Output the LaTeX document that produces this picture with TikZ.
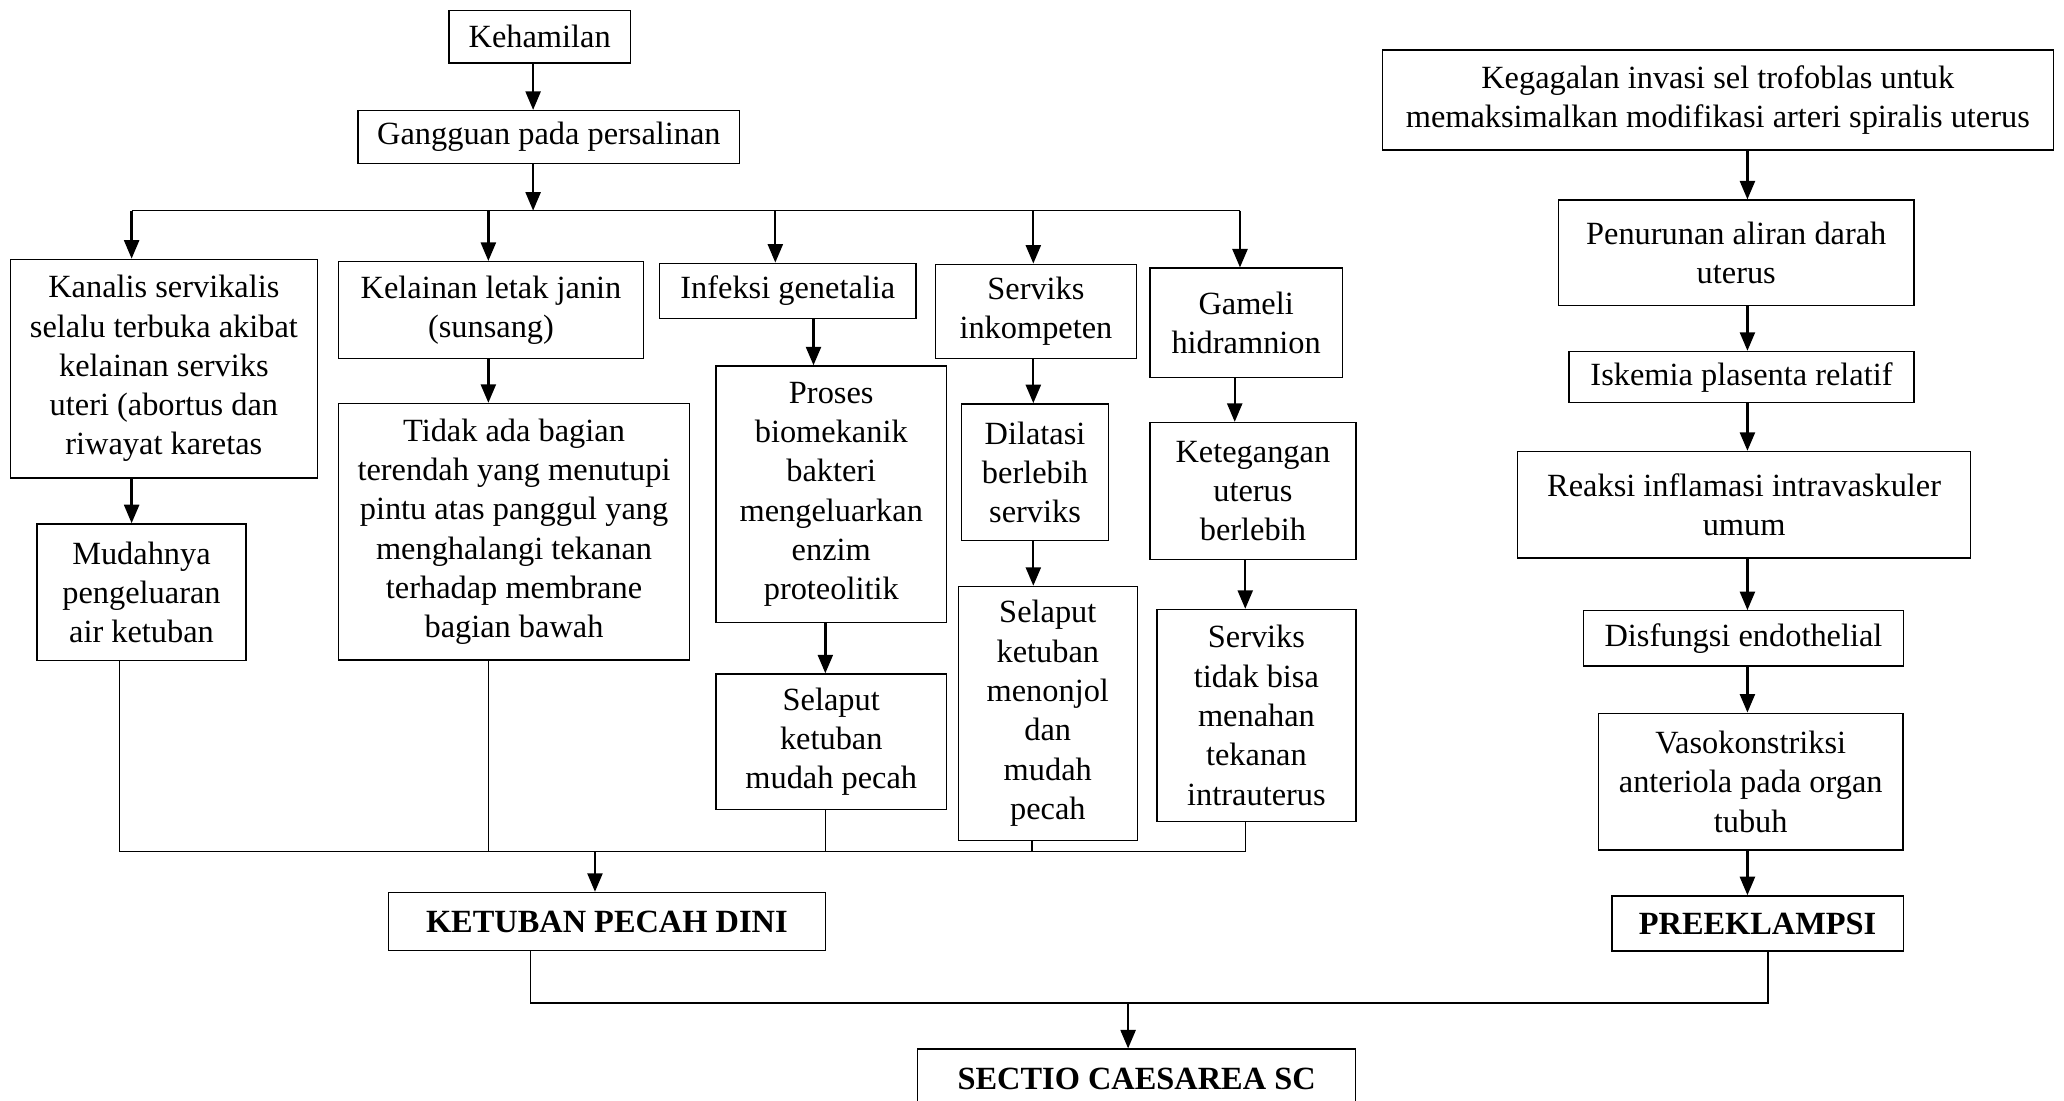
\documentclass[tikz,border=0pt]{standalone}
\usepackage{fontspec}
\setmainfont{Liberation Serif}
\usetikzlibrary{arrows.meta, positioning}

\begin{document}
\begin{tikzpicture}[
    x=0.02cm, y=-0.02cm,
    every node/.style={font=\fontsize{14}{17}\selectfont},
    box/.style 2 args={
        draw, line width=0.6pt,
        minimum width=#1, minimum height=#2,
        inner sep=0pt, align=center
    },
    bold/.style={font=\fontsize{14}{17}\selectfont\bfseries},
    arr/.style={
        -{Triangle[length=8pt, width=6.5pt]},
        line width=1pt
    },
    link/.style={line width=0.6pt}
]
\useasboundingbox (0,0) rectangle (1568,836);

% Nodes: ketuban pecah dini branch
\node[box={2.76cm}{0.80cm}] (hamil) at (410,28) {Kehamilan};
\node[box={5.80cm}{0.80cm}] (gangguan) at (417,104) {Gangguan pada persalinan};

\node[box={4.66cm}{3.32cm}] (kanalis) at (124.5,280)
    {Kanalis servikalis\\selalu terbuka akibat\\kelainan serviks\\uteri (abortus dan\\riwayat karetas};
\node[box={3.18cm}{2.08cm}] (mudah) at (107.5,450) {Mudahnya\\pengeluaran\\air ketuban};

\node[box={4.64cm}{1.47cm}] (kelainan) at (373,235.5) {Kelainan letak janin\\(sunsang)};
\node[box={5.34cm}{3.90cm}] (tidak) at (390.5,404)
    {Tidak ada bagian\\terendah yang menutupi\\pintu atas panggul yang\\menghalangi tekanan\\terhadap membrane\\bagian bawah};

\node[box={3.90cm}{0.84cm}] (infeksi) at (598.5,221) {Infeksi genetalia};
\node[box={3.50cm}{3.90cm}] (proses) at (631.5,375.5)
    {Proses\\biomekanik\\bakteri\\mengeluarkan\\enzim\\proteolitik};
\node[box={3.50cm}{2.06cm}] (selaput) at (631.5,563.5) {Selaput\\ketuban\\mudah pecah};

\node[box={3.06cm}{1.43cm}] (inkompeten) at (787,236.5) {Serviks\\inkompeten};
\node[box={2.23cm}{2.08cm}] (dilatasi) at (786.3,358.8) {Dilatasi\\berlebih\\serviks};
\node[box={2.72cm}{3.86cm}] (menonjol) at (796,542)
    {Selaput\\ketuban\\menonjol\\dan\\mudah\\pecah};

\node[box={2.92cm}{1.66cm}] (gameli) at (946.7,245.2) {Gameli\\hidramnion};
\node[box={3.13cm}{2.08cm}] (tegang) at (951.8,373) {Ketegangan\\uterus\\berlebih};
\node[box={3.02cm}{3.22cm}] (menahan) at (954.5,543.5)
    {Serviks\\tidak bisa\\menahan\\tekanan\\intrauterus};

\node[box={6.64cm}{0.88cm}, bold] (kpd) at (461,700) {KETUBAN PECAH DINI};

% Nodes: preeklampsi branch
\node[box={10.20cm}{1.52cm}] (gagal) at (1305,76)
    {Kegagalan invasi sel trofoblas untuk\\memaksimalkan modifikasi arteri spiralis uterus};
\node[box={5.40cm}{1.60cm}] (turun) at (1319,192) {Penurunan aliran darah\\uterus};
\node[box={5.24cm}{0.78cm}] (iskemia) at (1323,286.5) {Iskemia plasenta relatif};
\node[box={6.88cm}{1.62cm}] (reaksi) at (1325,383.5) {Reaksi inflamasi intravaskuler\\umum};
\node[box={4.86cm}{0.84cm}] (disfungsi) at (1324.5,485) {Disfungsi endothelial};
\node[box={4.63cm}{2.08cm}] (vaso) at (1330,593.8) {Vasokonstriksi\\anteriola pada organ\\tubuh};
\node[box={4.43cm}{0.84cm}, bold] (preek) at (1335.2,701.6) {PREEKLAMPSI};

\node[box={6.66cm}{0.92cm}, bold] (sc) at (863.5,820) {SECTIO CAESAREA SC};

% Branch points
\coordinate (g) at (405,160);
\coordinate (t1) at (100,160);
\coordinate (t2) at (371,160);
\coordinate (t3) at (589,160);
\coordinate (t4) at (785,160);
\coordinate (t5) at (942,160);
\coordinate (s3) at (618,0);
\coordinate (s5) at (938,0);
\coordinate (b1) at (91,647);
\coordinate (b2) at (371,647);
\coordinate (b3) at (627,647);
\coordinate (b4) at (784,647);
\coordinate (b5) at (946,647);
\coordinate (bk) at (452,647);
\coordinate (rc) at (1327.5,0);
\coordinate (j1) at (403,762);
\coordinate (j2) at (1343,762);
\coordinate (jm) at (857,762);

% Arrows: top
\draw[arr] (hamil.south -| g) -- (gangguan.north -| g);
\draw[arr] (gangguan.south -| g) -- (g);
\draw[link] (t1) -- (t5);
\draw[arr] (t1) -- (kanalis.north -| t1);
\draw[arr] (t2) -- (kelainan.north -| t2);
\draw[arr] (t3) -- (infeksi.north -| t3);
\draw[arr] (t4) -- (inkompeten.north -| t4);
\draw[arr] (t5) -- (gameli.north -| t5);

% Arrows: inside the columns
\draw[arr] (kanalis.south -| t1) -- (mudah.north -| t1);
\draw[arr] (kelainan.south -| t2) -- (tidak.north -| t2);
\draw[arr] (infeksi.south -| s3) -- (proses.north -| s3);
\draw[arr] (proses.south -| b3) -- (selaput.north -| b3);
\draw[arr] (inkompeten.south -| t4) -- (dilatasi.north -| t4);
\draw[arr] (dilatasi.south -| t4) -- (menonjol.north -| t4);
\draw[arr] (gameli.south -| s5) -- (tegang.north -| s5);
\draw[arr] (tegang.south -| b5) -- (menahan.north -| b5);

% Collecting line
\draw[link] (mudah.south -| b1) -- (b1) -- (b5) -- (menahan.south -| b5);
\draw[link] (tidak.south -| b2) -- (b2);
\draw[link] (selaput.south -| b3) -- (b3);
\draw[link] (menonjol.south -| b4) -- (b4);
\draw[arr] (bk) -- (kpd.north -| bk);

% Arrows: right column
\draw[arr] (gagal.south -| rc) -- (turun.north -| rc);
\draw[arr] (turun.south -| rc) -- (iskemia.north -| rc);
\draw[arr] (iskemia.south -| rc) -- (reaksi.north -| rc);
\draw[arr] (reaksi.south -| rc) -- (disfungsi.north -| rc);
\draw[arr] (disfungsi.south -| rc) -- (vaso.north -| rc);
\draw[arr] (vaso.south -| rc) -- (preek.north -| rc);

% Join to SC
\draw[link] (kpd.south -| j1) -- (j1) -- (j2) -- (preek.south -| j2);
\draw[arr] (jm) -- (sc.north -| jm);

\end{tikzpicture}
\end{document}
